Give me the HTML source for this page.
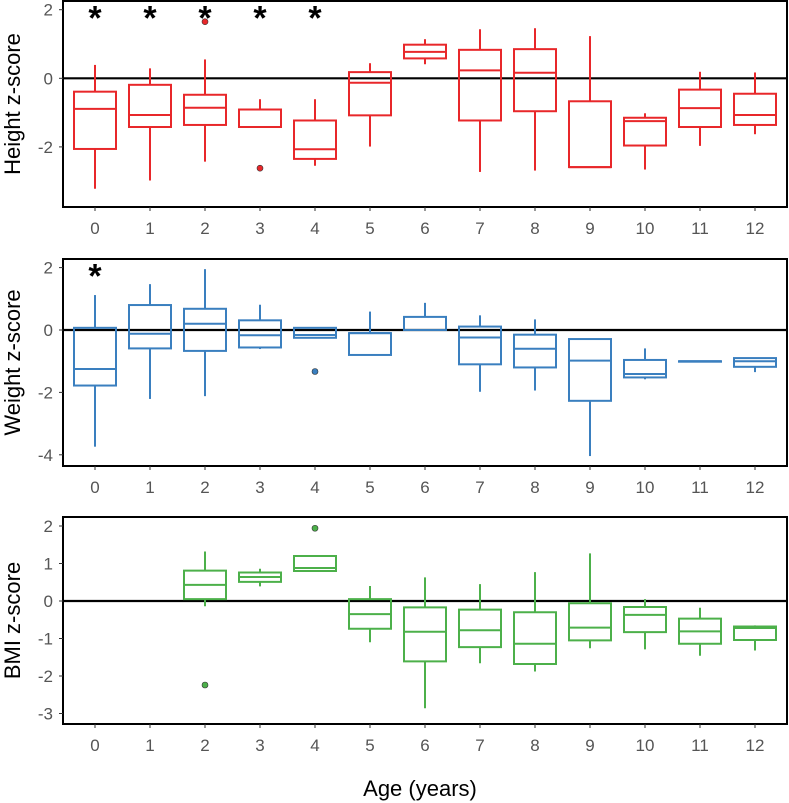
<!DOCTYPE html>
<html><head><meta charset="utf-8"><style>
html,body{margin:0;padding:0;background:#fff;}
svg{display:block;font-family:"Liberation Sans",sans-serif;}
</style></head><body>
<svg id="chart" width="789" height="803" viewBox="0 0 789 803"></svg>
<script>
const ages = [0,1,2,3,4,5,6,7,8,9,10,11,12];
// Height: [low, q1, med, q3, high]
const heightLow  = [-3.22,-2.98,-2.43,-1.42,-2.55,-1.99,0.41,-2.73,-2.69,-2.59,-2.66,-1.97,-1.63];
const heightQ1   = [-2.06,-1.42,-1.36,-1.42,-2.35,-1.08,0.58,-1.23,-0.96,-2.59,-1.96,-1.42,-1.36];
const heightMed  = [-0.89,-1.07,-0.86,-1.42,-2.07,-0.13,0.77,0.23,0.16,-2.59,-1.25,-0.87,-1.07];
const heightQ3   = [-0.39,-0.19,-0.48,-0.91,-1.23,0.18,0.98,0.83,0.85,-0.67,-1.15,-0.33,-0.45];
const heightHigh = [0.39,0.29,0.55,-0.61,-0.61,0.44,1.14,1.43,1.46,1.23,-1.02,0.19,0.17];
const heightOutAge = [2,3];
const heightOutVal = [1.65,-2.62];
const heightStarAges = [0,1,2,3,4];

const weightLow  = [-3.74,-2.21,-2.12,-0.61,-0.25,-0.8,0,-1.98,-1.94,-4.04,-1.58,-1.0,-1.35];
const weightQ1   = [-1.78,-0.59,-0.67,-0.56,-0.25,-0.8,0,-1.1,-1.2,-2.27,-1.52,-1.0,-1.18];
const weightMed  = [-1.25,-0.12,0.2,-0.17,-0.16,-0.1,0,-0.24,-0.6,-0.98,-1.41,-1.0,-1.0];
const weightQ3   = [0.07,0.8,0.68,0.31,0.07,-0.1,0.42,0.11,-0.15,-0.29,-0.96,-1.0,-0.9];
const weightHigh = [1.12,1.47,1.95,0.81,0.07,0.59,0.87,0.47,0.34,-0.29,-0.59,-1.0,-0.9];
const weightOutAge = [4];
const weightOutVal = [-1.33];
const weightStarAges = [0];

const bmiAges = [2,3,4,5,6,7,8,9,10,11,12];
const bmiLow  = [-0.14,0.39,0.8,-1.1,-2.86,-1.66,-1.88,-1.26,-1.29,-1.46,-1.32];
const bmiQ1   = [0.05,0.51,0.8,-0.74,-1.61,-1.23,-1.68,-1.05,-0.83,-1.14,-1.04];
const bmiMed  = [0.43,0.64,0.88,-0.35,-0.82,-0.78,-1.14,-0.71,-0.37,-0.81,-0.72];
const bmiQ3   = [0.81,0.76,1.2,0.05,-0.17,-0.23,-0.3,-0.06,-0.16,-0.47,-0.68];
const bmiHigh = [1.32,0.86,1.2,0.4,0.63,0.45,0.77,1.27,0.05,-0.18,-0.65];
const bmiOutAge = [2,4];
const bmiOutVal = [-2.24,1.94];

const heightTicks = [2,0,-2];
const weightTicks = [2,0,-2,-4];
const bmiTicks = [2,1,0,-1,-2,-3];

const svg = document.getElementById('chart');
const NS = 'http://www.w3.org/2000/svg';
function mk(tag, attrs, parent){const e=document.createElementNS(NS,tag);for(const k in attrs)e.setAttribute(k,attrs[k]);(parent||svg).appendChild(e);return e;}
const L=63,R=787;
function xs(a){return 95+a*55;}

function panel(cfg){
  const g=mk('g',{});
  
  
  const ys=v=>cfg.zero - v*cfg.unit;
  const fr=mk('rect',{x:L,y:cfg.top,width:R-L,height:cfg.bottom-cfg.top,fill:'none',stroke:'#000','stroke-width':2},g);
  
  
  const zl=mk('line',{x1:L,x2:R,y1:ys(0),y2:ys(0),stroke:'#000','stroke-width':2.2},g);
  
  
  cfg.ticks.forEach(t=>{
    mk('line',{x1:L-4,x2:L,y1:ys(t),y2:ys(t),stroke:'#333','stroke-width':1},g);
    const tx=mk('text',{x:L-10,y:ys(t)+6,'text-anchor':'end','font-size':17,fill:'#555'},g);
    tx.textContent=t;
    
    
  });
  ages.forEach(a=>{
    mk('line',{x1:xs(a),x2:xs(a),y1:cfg.bottom,y2:cfg.bottom+4,stroke:'#333','stroke-width':1},g);
    const tx=mk('text',{x:xs(a),y:cfg.bottom+27,'text-anchor':'middle','font-size':17,fill:'#555'},g);
    tx.textContent=a;
    
    
  });
  const yl=mk('text',{x:0,y:0,'text-anchor':'middle','font-size':22,fill:'#000',transform:`translate(20,${(cfg.top+cfg.bottom)/2}) rotate(-90)`},g);
  yl.textContent=cfg.title;
  
  
  const hw=21;
  cfg.ages.forEach((a,i)=>{
    const b=mk('g',{stroke:cfg.color,'stroke-width':2,fill:'none'},g);
    
    
    const x=xs(a);
    mk('line',{x1:x,x2:x,y1:ys(cfg.high[i]),y2:ys(cfg.q3[i])},b);
    mk('line',{x1:x,x2:x,y1:ys(cfg.q1[i]),y2:ys(cfg.low[i])},b);
    mk('rect',{x:x-hw,y:ys(cfg.q3[i]),width:2*hw,height:Math.max(0.5,ys(cfg.q1[i])-ys(cfg.q3[i]))},b);
    mk('line',{x1:x-hw,x2:x+hw,y1:ys(cfg.med[i]),y2:ys(cfg.med[i])},b);
  });
  cfg.outAge.forEach((a,i)=>{
    const c=mk('circle',{cx:xs(a),cy:ys(cfg.outVal[i]),r:3,fill:cfg.color,stroke:'#333','stroke-width':0.6},g);
    
    
  });
  (cfg.stars||[]).forEach(a=>{
    const s=mk('text',{x:xs(a),y:ys(2)+20,'text-anchor':'middle','font-size':34,'font-weight':'bold',fill:'#000'},g);
    s.textContent='*';
    
    
  });
}

panel({name:'height',title:'Height z-score',top:1,bottom:207,zero:78.3,unit:34.3,ticks:heightTicks,color:'#e8272a',
  ages:ages,low:heightLow,q1:heightQ1,med:heightMed,q3:heightQ3,high:heightHigh,outAge:heightOutAge,outVal:heightOutVal,stars:heightStarAges});
panel({name:'weight',title:'Weight z-score',top:259,bottom:466,zero:330,unit:31.2,ticks:weightTicks,color:'#3a7fbf',
  ages:ages,low:weightLow,q1:weightQ1,med:weightMed,q3:weightQ3,high:weightHigh,outAge:weightOutAge,outVal:weightOutVal,stars:weightStarAges});
panel({name:'bmi',title:'BMI z-score',top:517,bottom:724,zero:601,unit:37.5,ticks:bmiTicks,color:'#4cb04a',
  ages:bmiAges,low:bmiLow,q1:bmiQ1,med:bmiMed,q3:bmiQ3,high:bmiHigh,outAge:bmiOutAge,outVal:bmiOutVal});

const xt=mk('text',{x:420,y:796,'text-anchor':'middle','font-size':22,fill:'#000'});
xt.textContent='Age (years)';


</script>
</body></html>
